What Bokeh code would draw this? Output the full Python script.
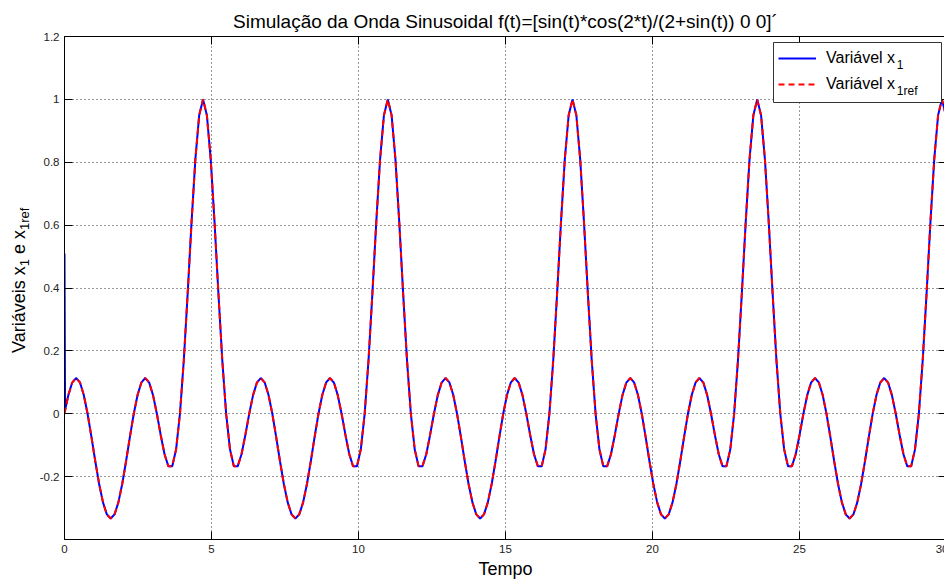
import numpy as np
from bokeh.plotting import figure
from bokeh.layouts import row
from bokeh.models import (Label, Legend, LegendItem, LinearAxis, FixedTicker, Div,
                          BoxAnnotation, CustomJSTickFormatter, Range1d)
from bokeh.embed import file_html
from bokeh.resources import INLINE

# ---------------- data ----------------
tempo = [
    0.000, 0.131, 0.262, 0.393, 0.524, 0.654, 0.785, 0.916, 1.047, 1.178, 1.309, 1.440,
    1.571, 1.702, 1.833, 1.963, 2.094, 2.225, 2.356, 2.487, 2.618, 2.749, 2.880, 3.011,
    3.142, 3.272, 3.403, 3.534, 3.665, 3.796, 3.927, 4.058, 4.189, 4.320, 4.451, 4.581,
    4.712, 4.843, 4.974, 5.105, 5.236, 5.367, 5.498, 5.629, 5.760, 5.890, 6.021, 6.152,
    6.283, 6.414, 6.545, 6.676, 6.807, 6.938, 7.069, 7.199, 7.330, 7.461, 7.592, 7.723,
    7.854, 7.985, 8.116, 8.247, 8.378, 8.508, 8.639, 8.770, 8.901, 9.032, 9.163, 9.294,
    9.425, 9.556, 9.687, 9.817, 9.948, 10.079, 10.210, 10.341, 10.472, 10.603, 10.734, 10.865,
    10.996, 11.126, 11.257, 11.388, 11.519, 11.650, 11.781, 11.912, 12.043, 12.174, 12.305, 12.435,
    12.566, 12.697, 12.828, 12.959, 13.090, 13.221, 13.352, 13.483, 13.614, 13.744, 13.875, 14.006,
    14.137, 14.268, 14.399, 14.530, 14.661, 14.792, 14.923, 15.053, 15.184, 15.315, 15.446, 15.577,
    15.708, 15.839, 15.970, 16.101, 16.232, 16.362, 16.493, 16.624, 16.755, 16.886, 17.017, 17.148,
    17.279, 17.410, 17.541, 17.671, 17.802, 17.933, 18.064, 18.195, 18.326, 18.457, 18.588, 18.719,
    18.850, 18.980, 19.111, 19.242, 19.373, 19.504, 19.635, 19.766, 19.897, 20.028, 20.159, 20.289,
    20.420, 20.551, 20.682, 20.813, 20.944, 21.075, 21.206, 21.337, 21.468, 21.598, 21.729, 21.860,
    21.991, 22.122, 22.253, 22.384, 22.515, 22.646, 22.777, 22.907, 23.038, 23.169, 23.300, 23.431,
    23.562, 23.693, 23.824, 23.955, 24.086, 24.216, 24.347, 24.478, 24.609, 24.740, 24.871, 25.002,
    25.133, 25.264, 25.395, 25.525, 25.656, 25.787, 25.918, 26.049, 26.180, 26.311, 26.442, 26.573,
    26.704, 26.834, 26.965, 27.096, 27.227, 27.358, 27.489, 27.620, 27.751, 27.882, 28.013, 28.143,
    28.274, 28.405, 28.536, 28.667, 28.798, 28.929, 29.060, 29.191, 29.322, 29.452, 29.583, 29.714,
    29.845, 29.976, 30.000,
]

x1_ref = [
    0, 0.0592, 0.0992, 0.1136, 0.1, 0.0604, 0, -0.0735, -0.1511, -0.2234, -0.282, -0.3201,
    -0.3333, -0.3201, -0.282, -0.2234, -0.1511, -0.0735, 0, 0.0604, 0.1, 0.1136, 0.0992, 0.0592,
    0, -0.0674, -0.1287, -0.1673, -0.1667, -0.1133, 0, 0.1702, 0.3819, 0.6071, 0.809, 0.9495,
    1.0, 0.9495, 0.809, 0.6071, 0.3819, 0.1702, 0, -0.1133, -0.1667, -0.1673, -0.1287, -0.0674,
    0, 0.0592, 0.0992, 0.1136, 0.1, 0.0604, 0, -0.0735, -0.1511, -0.2234, -0.282, -0.3201,
    -0.3333, -0.3201, -0.282, -0.2234, -0.1511, -0.0735, 0, 0.0604, 0.1, 0.1136, 0.0992, 0.0592,
    0, -0.0674, -0.1287, -0.1673, -0.1667, -0.1133, 0, 0.1702, 0.3819, 0.6071, 0.809, 0.9495,
    1.0, 0.9495, 0.809, 0.6071, 0.3819, 0.1702, 0, -0.1133, -0.1667, -0.1673, -0.1287, -0.0674,
    0, 0.0592, 0.0992, 0.1136, 0.1, 0.0604, 0, -0.0735, -0.1511, -0.2234, -0.282, -0.3201,
    -0.3333, -0.3201, -0.282, -0.2234, -0.1511, -0.0735, 0, 0.0604, 0.1, 0.1136, 0.0992, 0.0592,
    0, -0.0674, -0.1287, -0.1673, -0.1667, -0.1133, 0, 0.1702, 0.3819, 0.6071, 0.809, 0.9495,
    1.0, 0.9495, 0.809, 0.6071, 0.3819, 0.1702, 0, -0.1133, -0.1667, -0.1673, -0.1287, -0.0674,
    0, 0.0592, 0.0992, 0.1136, 0.1, 0.0604, 0, -0.0735, -0.1511, -0.2234, -0.282, -0.3201,
    -0.3333, -0.3201, -0.282, -0.2234, -0.1511, -0.0735, 0, 0.0604, 0.1, 0.1136, 0.0992, 0.0592,
    0, -0.0674, -0.1287, -0.1673, -0.1667, -0.1133, 0, 0.1702, 0.3819, 0.6071, 0.809, 0.9495,
    1.0, 0.9495, 0.809, 0.6071, 0.3819, 0.1702, 0, -0.1133, -0.1667, -0.1673, -0.1287, -0.0674,
    0, 0.0592, 0.0992, 0.1136, 0.1, 0.0604, 0, -0.0735, -0.1511, -0.2234, -0.282, -0.3201,
    -0.3333, -0.3201, -0.282, -0.2234, -0.1511, -0.0735, 0, 0.0604, 0.1, 0.1136, 0.0992, 0.0592,
    0, -0.0674, -0.1287, -0.1673, -0.1667, -0.1133, 0, 0.1702, 0.3819, 0.6071, 0.809, 0.9495,
    1.0, 0.9495, 0.9299,
]

# x1 starts at 0.51 and joins the reference almost immediately
x1_inicio_t = [0.0, 0.02]
x1_inicio = [0.51, 0.012]

x_ticks = [0, 5, 10, 15, 20, 25, 30]
y_ticks = [-0.2, 0, 0.2, 0.4, 0.6, 0.8, 1.0, 1.2]

title_text = "Simulação da Onda Sinusoidal f(t)=[sin(t)*cos(2*t)/(2+sin(t)) 0 0]´"
x_label = "Tempo"
y_label_main = ["Variáveis x", " e x"]
y_label_subs = ["1", "1ref"]
legend_labels = ["Variável x", "Variável x"]
legend_subs = ["1", "1ref"]

# ---------------- figure ----------------
FONT = "Liberation Sans"

x1_t = x1_inicio_t + tempo[1:]
x1 = x1_inicio + x1_ref[1:]

p = figure(width=914, height=581, x_range=Range1d(0, 30), y_range=Range1d(-0.4, 1.2),
           output_backend="svg", toolbar_location=None, margin=0,
           min_border_left=30, min_border_right=2, min_border_top=36, min_border_bottom=41)
p.background_fill_color = "white"
p.border_fill_color = "white"
p.outline_line_color = "black"
p.outline_line_width = 1

p.title.text = title_text
p.title.align = "center"
p.title.text_font = FONT
p.title.text_font_size = "19px"
p.title.text_font_style = "normal"
p.title.text_color = "black"

fmt = CustomJSTickFormatter(code="return Number(tick.toFixed(2)).toString();")
blank = CustomJSTickFormatter(code="return '';")

for ax in (p.xaxis[0], p.yaxis[0]):
    ax.major_tick_in = 8
    ax.major_tick_out = 0
    ax.minor_tick_line_color = None
    ax.axis_line_color = "black"
    ax.major_tick_line_color = "black"
    ax.major_label_text_font = FONT
    ax.major_label_text_font_size = "11.5px"
    ax.major_label_text_color = "#222222"
    ax.formatter = fmt

p.xaxis.ticker = FixedTicker(ticks=x_ticks)
p.yaxis.ticker = FixedTicker(ticks=y_ticks)
p.xaxis.major_label_standoff = 5
p.yaxis.major_label_standoff = 5
p.xaxis.axis_label = x_label
p.xaxis.axis_label_text_font = FONT
p.xaxis.axis_label_text_font_size = "18px"
p.xaxis.axis_label_text_font_style = "normal"
p.xaxis.axis_label_text_color = "black"
p.xaxis.axis_label_standoff = 3

# tick marks on the top and right edges (box), no labels
top_ax = LinearAxis(ticker=FixedTicker(ticks=x_ticks), formatter=blank,
                    major_label_text_font_size="1px",
                    major_tick_in=8, major_tick_out=0, minor_tick_line_color=None,
                    axis_line_color=None, major_label_standoff=0)
right_ax = LinearAxis(ticker=FixedTicker(ticks=y_ticks), formatter=blank,
                      major_label_text_font_size="1px",
                      major_tick_in=8, major_tick_out=0, minor_tick_line_color=None,
                      axis_line_color=None, major_label_standoff=0)
p.add_layout(top_ax, "above")
p.add_layout(right_ax, "right")

for g in (p.xgrid[0], p.ygrid[0]):
    g.grid_line_color = "#333333"
    g.grid_line_dash = "1 3"
    g.grid_line_width = 1

r_x1 = p.line(x1_t, x1, line_color="#0000ff", line_width=2)
r_ref = p.line(tempo, x1_ref, line_color="#ff0000", line_width=2, line_dash="6 4")

# legend box (white, bordered) drawn as an annotation, then texts, then the glyph samples
p.add_layout(BoxAnnotation(left=709, right=877, bottom=437, top=497,
                           left_units="screen", right_units="screen",
                           bottom_units="screen", top_units="screen",
                           fill_color="white", fill_alpha=1,
                           line_color="#333333", line_width=1, line_alpha=1))

legend = Legend(items=[LegendItem(label=legend_labels[0], renderers=[r_x1]),
                       LegendItem(label=legend_labels[1], renderers=[r_ref])],
                location=(709, 439), padding=5, spacing=4, margin=0,
                glyph_width=38, glyph_height=22, label_height=22, label_standoff=10,
                label_width=109, label_text_font=FONT, label_text_font_size="16px",
                label_text_color="black",
                border_line_alpha=0, background_fill_alpha=0)
p.add_layout(legend, "center")

for txt, ly in zip(legend_subs, [475, 449]):
    p.add_layout(Label(x=832.3, y=ly, x_units="screen", y_units="screen", text=txt,
                       text_font=FONT, text_font_size="12px", text_baseline="alphabetic",
                       text_align="left", text_color="black"))

# rotated y label with subscripts (HTML text beside the plot)
sub_style = "font-size:13px;vertical-align:-4px;line-height:0;"
ylabel_html = (
    '<div style="position:relative;width:34px;height:581px;">'
    '<div style="position:absolute;left:10px;top:353px;transform-origin:0 0;'
    'transform:rotate(-90deg);white-space:nowrap;font-family:\'Liberation Sans\';'
    'font-size:18px;line-height:18px;color:black;">'
    f'{y_label_main[0]}<sub style="{sub_style}">{y_label_subs[0]}</sub>'
    f'{y_label_main[1]}<sub style="{sub_style}">{y_label_subs[1]}</sub>'
    '</div></div>'
)
ylabel_div = Div(text=ylabel_html, width=34, height=581, margin=0)

layout = row(ylabel_div, p, spacing=0)

open("out.html", "w").write(file_html(layout, INLINE))
